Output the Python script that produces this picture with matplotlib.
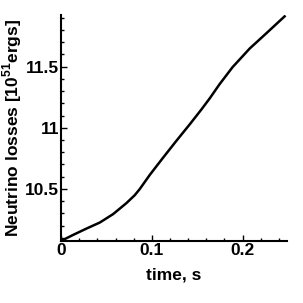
import matplotlib
matplotlib.use("Agg")
import matplotlib.pyplot as plt
from matplotlib.ticker import MultipleLocator

# values
time_s = [0.0, 0.0132, 0.028, 0.0426, 0.0573, 0.072, 0.0812, 0.0867, 0.0977,
          0.1123, 0.127, 0.142, 0.1547, 0.1638, 0.1746, 0.189, 0.208, 0.226, 0.2464]
losses = [10.076, 10.125, 10.177, 10.226, 10.295, 10.385, 10.45, 10.50, 10.615,
          10.755, 10.893, 11.03, 11.15, 11.24, 11.355, 11.495, 11.648, 11.77, 11.91]

plt.rcParams['font.family'] = ['Liberation Sans', 'DejaVu Sans']
plt.rcParams['font.weight'] = 'bold'

fig = plt.figure(figsize=(3.03, 3.03), dpi=100)
ax = fig.add_axes([0.202, 0.205, 0.745, 0.745])

ax.plot(time_s, losses, color='black', lw=1.8, solid_joinstyle='round')

ax.set_xlim(0, 0.249)
ax.set_ylim(10.076, 11.92)
ax.xaxis.set_minor_locator(MultipleLocator(0.02))
ax.yaxis.set_minor_locator(MultipleLocator(0.1))
ax.set_xticks([0, 0.1, 0.2])
ax.set_xticklabels(['0', '0.1', '0.2'])
ax.set_yticks([10.5, 11, 11.5])
ax.set_yticklabels(['10.5', '11', '11.5'])

for s in ['top', 'right']:
    ax.spines[s].set_visible(False)
for s in ['left', 'bottom']:
    ax.spines[s].set_linewidth(1.5)

ax.tick_params(which='both', direction='in', width=1.0, labelsize=12.5)
ax.tick_params(which='major', length=4.5, pad=1.5)
ax.tick_params(which='minor', length=2.2)

ax.set_xlabel('time, s', fontsize=12.5, fontweight='bold', labelpad=7)
ax.set_ylabel(r'Neutrino losses [10$^{\mathregular{51}}$ergs]', fontsize=12.5,
              fontweight='bold', labelpad=1)

fig.savefig('out.png', dpi=100)
